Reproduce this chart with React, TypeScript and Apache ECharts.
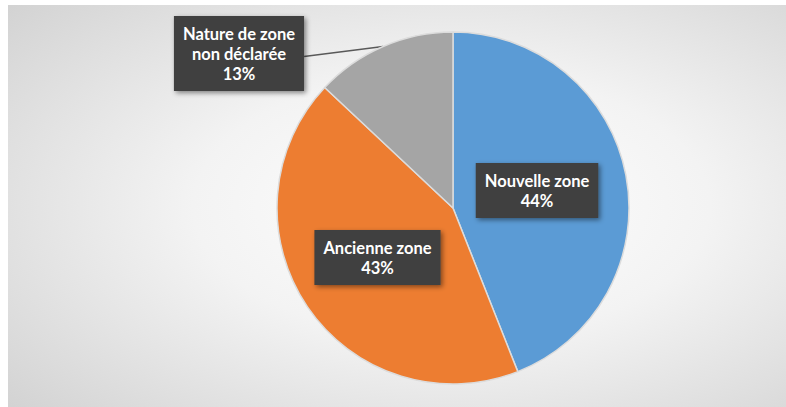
import React, { useEffect, useRef } from "react";
import * as echarts from "echarts";

const categories = ["Nouvelle zone", "Ancienne zone", "Nature de zone\nnon déclarée"];
const values = [44, 43, 13];
const colors = ["#5B9BD5", "#ED7D31", "#A5A5A5"];

// label anchor centres (chart px)
const labelCentres: [number, number][] = [
  [529, 185.5],
  [369.5, 252.5],
  [231, 48.5],
];

export default function App() {
  const ref = useRef<HTMLDivElement>(null);
  useEffect(() => {
    if (!ref.current) return;
    const chart = echarts.init(ref.current, undefined, { renderer: "svg" });
    const data = categories.map((name, i) => ({
      name,
      value: values[i],
      itemStyle: { color: colors[i] },
      label: { position: i === 2 ? "outside" : "inside" },
      labelLine: { show: i === 2 },
    }));
    chart.setOption({
      animation: false,
      backgroundColor: new echarts.graphic.RadialGradient(0.57, 0.5, 0.95, [
        { offset: 0, color: "#ffffff" },
        { offset: 0.35, color: "#f3f3f3" },
        { offset: 1, color: "#c4c4c4" },
      ]),
      series: [
        {
          type: "pie",
          center: [445, 203],
          radius: 176,
          startAngle: 90,
          clockwise: true,
          data,
          itemStyle: { borderColor: "#dcdcdc", borderWidth: 1.5 },
          label: {
            formatter: "{b}\n{d}%",
            color: "#ffffff",
            fontFamily: "Lato, 'Open Sans', sans-serif",
            fontWeight: "bold",
            fontSize: 16.5,
            lineHeight: 20,
            align: "center",
            backgroundColor: "#404040",
            padding: [8, 9, 7, 9],
            shadowBlur: 5,
            shadowColor: "rgba(0,0,0,0.45)",
            shadowOffsetX: 2,
            shadowOffsetY: 2,
          },
          labelLine: {
            lineStyle: { color: "#595959", width: 1.5 },
          },
          labelLayout: (params: any) => {
            const i = params.dataIndex;
            const [cx, cy] = labelCentres[i];
            const res: any = { x: cx, y: cy, align: "center", verticalAlign: "middle" };
            if (i === 2 && params.labelLinePoints) {
              const start = params.labelLinePoints[0];
              const endX = cx + params.labelRect.width / 2;
              res.labelLinePoints = [start, [endX, cy + 3], [endX, cy + 3]];
            }
            return res;
          },
        },
      ],
    });
    return () => chart.dispose();
  }, []);
  return (
    <div
      ref={ref}
      style={{ position: "absolute", left: 8, top: 5, width: 778, height: 402 }}
    />
  );
}
